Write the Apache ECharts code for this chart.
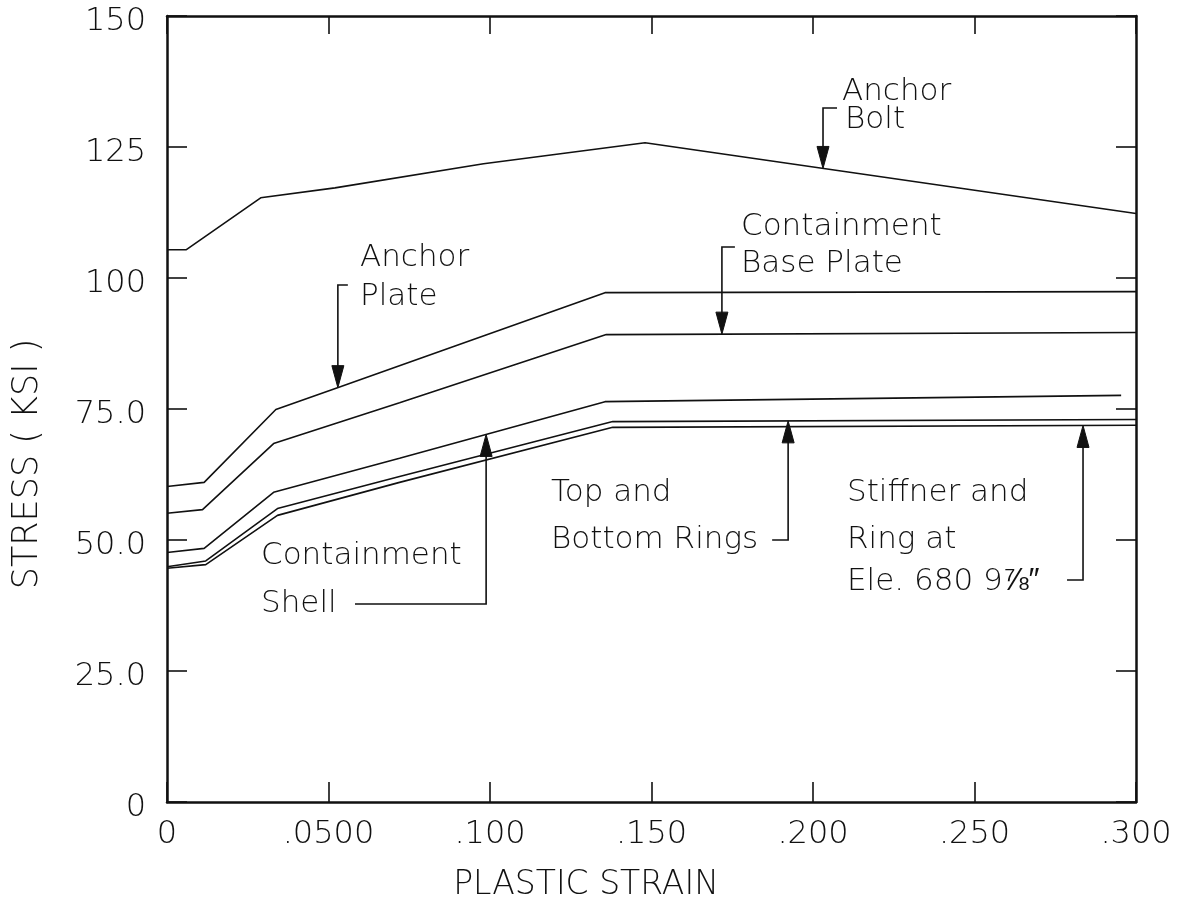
<!DOCTYPE html>
<html>
<head>
<meta charset="utf-8">
<script src="https://cdn.jsdelivr.net/npm/echarts@6/dist/echarts.min.js"></script>
<style>
  html, body { margin: 0; padding: 0; background: #fff; }
  #chart { width: 1198px; height: 908px; }
</style>
</head>
<body>
<div id="chart"></div>
<script>
// Tick labels
const xTickLabels = ['0', '.0500', '.100', '.150', '.200', '.250', '.300'];
const yTickLabels = ['0', '25.0', '50.0', '75.0', '100', '125', '150'];

// Stress (ksi) vs plastic strain for each component
const anchorBoltStrain = [0, 0.006, 0.029, 0.052, 0.098, 0.148, 0.300];
const anchorBoltStress = [105.4, 105.4, 115.3, 117.2, 121.8, 125.8, 112.3];

const anchorPlateStrain = [0, 0.0115, 0.0337, 0.053, 0.1356, 0.300];
const anchorPlateStress = [60.2, 61.0, 74.9, 79.1, 97.2, 97.4];

const basePlateStrain = [0, 0.011, 0.033, 0.072, 0.136, 0.300];
const basePlateStress = [55.1, 55.8, 68.4, 76.2, 89.2, 89.6];

const shellStrain = [0, 0.0115, 0.033, 0.072, 0.1356, 0.2954];
const shellStress = [47.6, 48.4, 59.1, 65.6, 76.4, 77.6];

const ringsStrain = [0, 0.012, 0.0342, 0.072, 0.138, 0.300];
const ringsStress = [44.9, 46.0, 56.0, 62.1, 72.6, 73.0];

const stiffnerStrain = [0, 0.012, 0.0342, 0.072, 0.138, 0.300];
const stiffnerStress = [44.6, 45.3, 54.7, 61.0, 71.5, 71.9];

const FONT = '"DejaVu Sans", "Liberation Sans", sans-serif';
const INK = '#111';

function pairs(xs, ys) { return xs.map((x, i) => [x, ys[i]]); }

function lineSeries(name, xs, ys) {
  return {
    name: name, type: 'line', data: pairs(xs, ys),
    showSymbol: false, symbol: 'none',
    lineStyle: { color: INK, width: 1.6 },
    silent: true
  };
}

const chart = echarts.init(document.getElementById('chart'), null, { renderer: 'canvas' });

const axisLine = { show: true, onZero: false, lineStyle: { color: INK, width: 2.5 } };
const tickStyle = { color: INK, width: 1.6 };

chart.setOption({
  animation: false,
  backgroundColor: '#fff',
  grid: { left: 167, right: 62, top: 16, bottom: 106, containLabel: false },
  xAxis: [
    {
      type: 'value', position: 'bottom', min: 0, max: 0.3, interval: 0.05,
      axisLine: axisLine,
      axisTick: { show: true, inside: true, length: 20, lineStyle: tickStyle },
      splitLine: { show: false },
      axisLabel: {
        margin: 17, color: INK, fontFamily: FONT, fontSize: 32, fontWeight: 300,
        formatter: (v) => xTickLabels[Math.round(v / 0.05)]
      }
    },
    {
      type: 'value', position: 'top', min: 0, max: 0.3, interval: 0.05,
      axisLine: axisLine,
      axisTick: { show: true, inside: true, length: 18, lineStyle: tickStyle },
      splitLine: { show: false },
      axisLabel: { show: false }
    }
  ],
  yAxis: [
    {
      type: 'value', position: 'left', min: 0, max: 150, interval: 25,
      axisLine: axisLine,
      axisTick: { show: true, inside: true, length: 20, lineStyle: tickStyle },
      splitLine: { show: false },
      axisLabel: {
        margin: 21, color: INK, fontFamily: FONT, fontSize: 32, fontWeight: 300,
        verticalAlign: 'top', lineHeight: 12,
        formatter: (v) => yTickLabels[Math.round(v / 25)]
      }
    },
    {
      type: 'value', position: 'right', min: 0, max: 150, interval: 25,
      axisLine: axisLine,
      axisTick: { show: true, inside: true, length: 20, lineStyle: tickStyle },
      splitLine: { show: false },
      axisLabel: { show: false }
    }
  ],
  series: [
    lineSeries('Anchor Bolt', anchorBoltStrain, anchorBoltStress),
    lineSeries('Anchor Plate', anchorPlateStrain, anchorPlateStress),
    lineSeries('Containment Base Plate', basePlateStrain, basePlateStress),
    lineSeries('Containment Shell', shellStrain, shellStress),
    lineSeries('Top and Bottom Rings', ringsStrain, ringsStress),
    lineSeries('Stiffner and Ring at Ele. 680 9⅞″', stiffnerStrain, stiffnerStress)
  ]
});

// ---- Callout annotations ----
function toPx(strain, stress) {
  return chart.convertToPixel({ xAxisIndex: 0, yAxisIndex: 0 }, [strain, stress]);
}
// stress on a piecewise-linear curve at a given strain (used to land arrow tips on the curve)
function onCurve(xs, ys, s) {
  for (let i = 1; i < xs.length; i++) {
    if (s <= xs[i]) {
      const t = (s - xs[i - 1]) / (xs[i] - xs[i - 1]);
      return ys[i - 1] + t * (ys[i] - ys[i - 1]);
    }
  }
  return ys[ys.length - 1];
}

const lineStyle = { stroke: INK, lineWidth: 1.6, fill: null };
const textStyle = (text, x, y) => ({
  type: 'text', x: x, y: y,
  style: { text: text, fill: INK, font: '300 31px ' + FONT, textAlign: 'left', textVerticalAlign: 'middle' },
  silent: true
});

function arrowHead(x, tipY, pointingDown) {
  const b = pointingDown ? tipY - 22 : tipY + 22;
  return {
    type: 'polygon', silent: true,
    shape: { points: [[x - 6, b], [x + 6, b], [x, tipY]] },
    style: { fill: INK, stroke: INK, lineWidth: 1 }
  };
}

function callout(xs, ys, strain, path, pointingDown) {
  const tip = toPx(strain, onCurve(xs, ys, strain));
  const x = tip[0];
  const y = tip[1];
  const pts = path(x).concat([[x, pointingDown ? y - 18 : y + 18]]);
  return [
    { type: 'polyline', silent: true, shape: { points: pts }, style: lineStyle },
    arrowHead(x, y, pointingDown)
  ];
}

const graphics = [];

// Anchor Bolt
graphics.push(textStyle('Anchor', 842, 92), textStyle('Bolt', 845, 120));
graphics.push(...callout(anchorBoltStrain, anchorBoltStress, 0.2031,
  (x) => [[x + 14, 108], [x, 108]], true));

// Anchor Plate
graphics.push(textStyle('Anchor', 360, 258), textStyle('Plate', 360, 297));
graphics.push(...callout(anchorPlateStrain, anchorPlateStress, 0.0529,
  (x) => [[x + 10, 285], [x, 285]], true));

// Containment Base Plate
graphics.push(textStyle('Containment', 741, 227), textStyle('Base Plate', 741, 264));
graphics.push(...callout(basePlateStrain, basePlateStress, 0.1718,
  (x) => [[x + 13, 247], [x, 247]], true));

// Containment Shell
graphics.push(textStyle('Containment', 261, 556), textStyle('Shell', 261, 604));
graphics.push(...callout(shellStrain, shellStress, 0.0988,
  (x) => [[355, 604], [x, 604]], false));

// Top and Bottom Rings
graphics.push(textStyle('Top and', 551, 493), textStyle('Bottom Rings', 551, 540));
graphics.push(...callout(ringsStrain, ringsStress, 0.1923,
  (x) => [[x - 16, 540], [x, 540]], false));

// Stiffner and Ring at Ele. 680 9 7/8"
graphics.push(textStyle('Stiffner and', 847, 493), textStyle('Ring at', 847, 540),
  textStyle('Ele. 680 9⅞″', 847, 582));
graphics.push(...callout(stiffnerStrain, stiffnerStress, 0.2836,
  (x) => [[x - 16, 580], [x, 580]], false));

// Axis titles
graphics.push({
  type: 'text', x: 586, y: 885, silent: true,
  style: { text: 'PLASTIC STRAIN', fill: INK, font: '300 33px ' + FONT, textAlign: 'center', textVerticalAlign: 'middle' }
});
graphics.push({
  type: 'text', x: 28, y: 464, rotation: Math.PI / 2, silent: true,
  style: { text: 'STRESS ( KSI )', fill: INK, font: '300 35px ' + FONT, textAlign: 'center', textVerticalAlign: 'middle' }
});

chart.setOption({ graphic: { elements: graphics } });
</script>
</body>
</html>
